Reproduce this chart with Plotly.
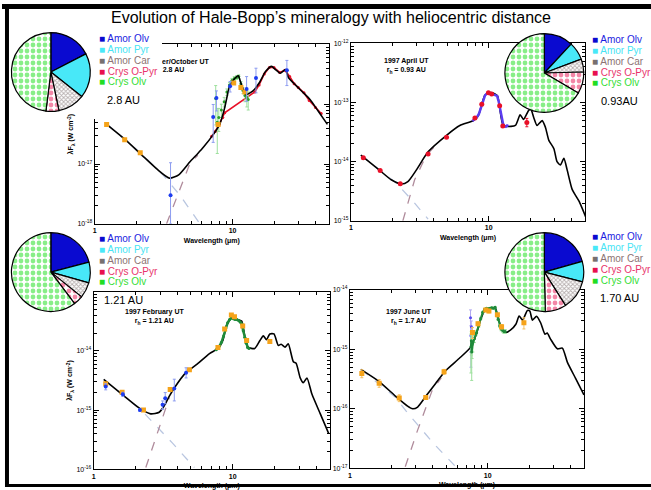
import plotly.graph_objects as go

FONT = "Arial, Liberation Sans, sans-serif"

# ---------------- Pie data (composition fractions, %) ----------------
pie_labels = ["Amor Olv", "Amor Pyr", "Amor Car", "Crys O-Pyr", "Crys Olv"]
pie_28 = [17.4, 18.3, 11.0, 5.3, 48.0]
pie_093 = [11.9, 7.4, 5.3, 8.9, 66.5]
pie_121 = [20.9, 8.5, 6.4, 3.9, 60.3]
pie_170 = [20.6, 8.4, 12.0, 8.6, 50.4]
legend_colors = ["#1c1ce0", "#48e4f4", "#8c7373", "#e8336b", "#33dd33"]
legend_box_colors = ["#0a0ad0", "#48e8f8", "#777070", "#e8104f", "#22dd22"]

# ---------------- Panel A : 1997 Sep/Oct, 2.8 AU ----------------
A_model_wl = [1.22, 1.65, 2.17, 2.85, 3.49, 4.07, 4.93, 5.6, 6.14, 7.24, 8.07, 8.77, 9.52, 10.2, 11.0,
              11.5, 12.5, 14.0, 15.6, 17.4, 19.2, 20.5, 22.2, 24.2, 25.5, 27.7, 31.8, 36.5, 41.8, 48.8]
A_model_F = [4.6e-17, 2.6e-17, 1.45e-17, 8.1e-18, 5.8e-18, 6.6e-18, 1.1e-17, 1.5e-17, 1.9e-17, 3.1e-17,
             4.6e-17, 8.7e-17, 2.0e-16, 2.57e-16, 3.0e-16, 2.26e-16, 1.45e-16, 1.65e-16, 2.26e-16, 3.55e-16,
             4.3e-16, 3.8e-16, 3.3e-16, 3.8e-16, 2.75e-16, 2.26e-16, 1.65e-16, 1.2e-16, 7.7e-17, 4.6e-17]
A_scat_wl = [1.22, 2.17, 3.18, 4.2, 5.8]
A_scat_F = [4.7e-17, 1.5e-17, 6.3e-18, 2.9e-18, 1.0e-18]
A_therm_wl = [3.32, 3.8, 4.3, 4.93, 5.6]
A_therm_F = [1.0e-18, 2.26e-18, 4.8e-18, 1.05e-17, 1.4e-17]
A_orange_wl = [1.22, 1.65, 2.14, 7.86, 10.2, 11.5, 12.3]
A_orange_F = [4.6e-17, 2.55e-17, 1.54e-17, 4.6e-17, 2.26e-16, 1.9e-16, 1.6e-16]
A_blue_wl = [3.55, 7.24, 7.64, 9.6, 12.65, 14.8, 24.8]
A_blue_F = [3.0e-18, 6.1e-17, 1.27e-16, 2.0e-16, 1.8e-16, 2.75e-16, 3.7e-16]
A_blue_up = [7.5e-18, 3.8e-17, 4e-17, 4e-17, 1.1e-16, 1.25e-16, 1.7e-16]
A_blue_dn = [2.0e-18, 3.8e-17, 5e-17, 4e-17, 6.8e-17, 1.2e-16, 1.65e-16]
A_green_wl = [7.55, 7.75, 7.95, 8.3, 8.7, 9.1, 9.5, 9.9, 10.3, 10.7, 11.1, 11.5, 11.9, 12.3, 12.7, 13.0]
A_green_F = [1.25e-16, 5.0e-17, 6.0e-17, 8.0e-17, 1.1e-16, 1.6e-16, 2.1e-16, 2.5e-16, 2.7e-16, 2.8e-16,
             2.9e-16, 2.2e-16, 1.7e-16, 1.4e-16, 1.3e-16, 1.2e-16]
A_green_err = [8e-17, 3.5e-17, 2.5e-17, 2e-17, 2e-17, 2e-17, 2e-17, 2e-17, 2e-17, 2e-17, 2e-17, 2e-17,
               2e-17, 3e-17, 4e-17, 4e-17]
A_red_wl = [7.06, 7.5, 8.0, 8.5, 8.77, 14.5, 15.6, 17.0, 18.5, 20.0, 22.0, 24.0, 26.0, 28.0, 30.0, 33.0,
            36.0, 40.0, 44.0]
A_red_F = [2.9e-17, 3.5e-17, 4.6e-17, 6.0e-17, 7.2e-17, 1.6e-16, 2.1e-16, 3.2e-16, 4.1e-16, 4.1e-16,
           3.4e-16, 3.7e-16, 2.9e-16, 2.2e-16, 1.9e-16, 1.55e-16, 1.15e-16, 8.8e-17, 7.0e-17]

# ---------------- Panel B : 1997 April, 0.93 AU ----------------
B_model_wl = [1.18, 1.61, 1.96, 2.32, 2.59, 2.98, 3.63, 4.94, 6.17, 7.73, 8.4, 8.9, 9.4, 10.2, 11.1, 11.6,
              12.1, 12.65, 13.5, 15.6, 16.9, 17.9, 19.5, 20.2, 21.2, 22.4, 24.4, 25.8, 27.3, 29.7, 31.3,
              33.1, 35.1, 37.1, 40.3, 45.2, 51.3]
B_model_F = [1.29e-14, 7.2e-15, 4.95e-15, 4.2e-15, 4.6e-15, 7.2e-15, 1.47e-14, 2.8e-14, 4.1e-14, 4.95e-14,
             6.0e-14, 9.4e-14, 1.34e-13, 1.47e-13, 1.4e-13, 1.29e-13, 7.2e-14, 4.3e-14, 3.95e-14, 4.1e-14,
             6.2e-14, 5.2e-14, 7.4e-14, 7.7e-14, 5.6e-14, 4.1e-14, 4.95e-14, 3.8e-14, 2.3e-14, 1.66e-14,
             1.0e-14, 8.8e-15, 1.14e-14, 7.2e-15, 3.4e-15, 2.15e-15, 1.07e-15]
B_scat_wl = [1.18, 1.61, 2.13, 2.82, 3.63]
B_scat_F = [1.29e-14, 7.2e-15, 4.35e-15, 2.15e-15, 1.07e-15]
B_therm_wl = [2.38, 2.9, 3.53, 4.0]
B_therm_F = [1.0e-15, 4.95e-15, 1.29e-14, 1.75e-14]
B_red_wl = [1.23, 1.63, 2.28, 3.63, 4.94, 7.94, 8.9, 9.95, 10.5, 12.0, 12.65, 18.9]
B_red_F = [1.17e-14, 7.1e-15, 4.25e-15, 1.35e-14, 2.6e-14, 5.5e-14, 9.4e-14, 1.47e-13, 1.4e-13, 8.8e-14,
           4.0e-14, 4.6e-14]
B_red_up = [0, 0, 0, 0, 0, 0, 0, 0, 0, 0, 0, 8e-15]
B_red_dn = [0, 0, 0, 0, 0, 0, 0, 0, 0, 0, 0, 7e-15]
B_purple_wl = [7.6, 7.9, 8.2, 8.5, 8.8, 9.1, 9.4, 9.7, 10.0, 10.3, 10.6, 10.9, 11.2, 11.5, 11.8, 12.1,
               12.4, 12.7, 13.0, 13.3, 13.6, 13.9]
B_purple_F = [4.9e-14, 5.2e-14, 5.6e-14, 6.5e-14, 8.2e-14, 1.1e-13, 1.32e-13, 1.42e-13, 1.45e-13, 1.43e-13,
              1.4e-13, 1.38e-13, 1.36e-13, 1.3e-13, 1.05e-13, 7.6e-14, 5.5e-14, 4.4e-14, 4.0e-14, 3.9e-14,
              4.1e-14, 4.0e-14]

# ---------------- Panel C : 1997 February, 1.21 AU ----------------
C_model_wl = [1.18, 1.6, 2.12, 2.57, 2.96, 3.22, 3.5, 3.8, 4.62, 5.45, 6.81, 7.83, 8.5, 9.0, 9.78, 10.6,
              11.6, 12.2, 12.9, 14.4, 15.7, 16.6, 17.5, 18.5, 19.8, 21.3, 22.3, 23.8, 25.1, 27.3, 28.6,
              30.6, 32.2, 34.2, 37.2, 42.7, 49.0]
C_model_F = [3.3e-15, 1.85e-15, 1.09e-15, 8.65e-16, 9.2e-16, 1.19e-15, 1.72e-15, 2.37e-15, 4.35e-15,
             5.8e-15, 9.05e-15, 1.1e-14, 1.5e-14, 2.66e-14, 3.65e-14, 3.45e-14, 3.2e-14, 1.8e-14, 1.16e-14,
             1.1e-14, 1.5e-14, 1.8e-14, 1.55e-14, 1.94e-14, 1.94e-14, 1.24e-14, 1.3e-14, 1.16e-14,
             1.32e-14, 6.6e-15, 6.2e-15, 3.5e-15, 2.9e-15, 3.5e-15, 1.85e-15, 8.65e-16, 4.05e-16]
C_scat_wl = [1.18, 2.2, 3.69, 5.3]
C_scat_F = [3.3e-15, 1.0e-15, 2.76e-16, 1.07e-16]
C_therm_wl = [2.37, 2.96, 3.5]
C_therm_F = [1.07e-16, 4.9e-16, 1.63e-15]
C_orange_wl = [1.22, 1.6, 2.28, 3.55, 4.88, 7.83, 8.75, 9.78, 10.3, 11.8, 12.6, 18.5]
C_orange_F = [2.8e-15, 2.0e-15, 1.0e-15, 2.24e-15, 4.8e-15, 1.15e-14, 2.35e-14, 4.05e-14, 3.8e-14,
              2.65e-14, 1.5e-14, 1.45e-14]
C_blue_wl = [1.22, 1.62, 2.15, 3.13, 3.27, 3.8, 4.62]
C_blue_F = [2.5e-15, 1.85e-15, 1.0e-15, 1.23e-15, 1.58e-15, 2.33e-15, 4.3e-15]
C_blue_up = [3e-16, 1.5e-16, 5e-17, 2e-16, 4e-16, 1.0e-15, 9e-16]
C_blue_dn = [3e-16, 1.5e-16, 5e-17, 2e-16, 3e-16, 9e-16, 8e-16]
C_green_wl = [7.6, 7.8, 8.0, 8.3, 8.6, 8.9, 9.2, 9.5, 9.8, 10.1, 10.4, 10.7, 11.0, 11.3, 11.6, 11.9, 12.2,
              12.5, 12.8, 13.1]
C_green_F = [1.05e-14, 1.1e-14, 1.2e-14, 1.4e-14, 1.8e-14, 2.4e-14, 3.0e-14, 3.4e-14, 3.6e-14, 3.5e-14,
             3.4e-14, 3.4e-14, 3.3e-14, 3.1e-14, 2.9e-14, 2.2e-14, 1.7e-14, 1.35e-14, 1.15e-14, 1.1e-14]

# ---------------- Panel D : 1997 June, 1.7 AU ----------------
D_model_wl = [1.2, 1.63, 2.15, 2.62, 2.85, 3.1, 3.55, 4.2, 4.96, 6.2, 7.53, 8.19, 8.9, 9.68, 10.8, 11.3,
              11.75, 12.4, 13.4, 14.6, 16.0, 16.9, 17.9, 19.4, 20.2, 21.1, 22.6, 24.2, 26.0, 27.0, 28.5,
              32.0, 34.8, 37.8, 43.4, 49.9]
D_model_F = [4.6e-16, 2.87e-16, 1.62e-16, 1.11e-16, 1.0e-16, 1.07e-16, 1.62e-16, 2.7e-16, 4.4e-16,
             7.0e-16, 1.09e-15, 1.69e-15, 3.2e-15, 4.85e-15, 4.85e-15, 5.1e-15, 3.87e-15, 2.47e-15,
             1.92e-15, 2.1e-15, 2.64e-15, 3.63e-15, 3.1e-15, 4.5e-15, 4.4e-15, 3.1e-15, 3.6e-15, 2.8e-15,
             1.8e-15, 1.88e-15, 1.5e-15, 1.02e-15, 1.05e-15, 6.1e-16, 3.25e-16, 1.72e-16]
D_scat_wl = [1.2, 2.15, 2.55, 3.97, 5.86]
D_scat_F = [4.6e-16, 1.55e-16, 9.2e-17, 2.74e-17, 1.06e-17]
D_therm_wl = [2.52, 3.09, 3.97, 4.6]
D_therm_F = [1.06e-17, 4.3e-17, 2.09e-16, 3.3e-16]
D_orange_wl = [1.22, 1.63, 2.28, 3.55, 4.82, 7.75, 8.5, 9.68, 10.2, 11.75, 12.6, 18.3]
D_orange_F = [3.93e-16, 2.7e-16, 1.52e-16, 1.55e-16, 4.2e-16, 1.92e-15, 2.7e-15, 4.6e-15, 4.4e-15,
              3.8e-15, 2.4e-15, 2.8e-15]
D_orange_err = [6e-17, 4e-17, 2e-17, 1e-17, 4e-17, 4e-16, 2e-16, 3e-16, 3e-16, 2e-16, 2e-16, 6e-16]
D_blue_wl = [7.5, 7.55, 7.6]
D_blue_F = [3.4e-15, 1.7e-15, 2.4e-15]
D_blue_up = [1.2e-15, 8e-16, 6e-16]
D_blue_dn = [2.5e-15, 1.2e-15, 1.4e-15]
D_green_wl = [7.55, 7.6, 7.65, 7.7, 7.8, 8.0, 8.3, 8.6, 8.9, 9.2, 9.5, 9.8, 10.1, 10.4, 10.7, 11.0, 11.3,
              11.6, 11.9, 12.2, 12.5, 12.8, 13.1, 13.4]
D_green_F = [1.1e-15, 1.4e-15, 9e-16, 1.2e-15, 1.3e-15, 1.5e-15, 1.9e-15, 2.5e-15, 3.3e-15, 4.2e-15,
             4.7e-15, 4.9e-15, 4.8e-15, 4.9e-15, 5.0e-15, 4.9e-15, 5.1e-15, 4.0e-15, 3.2e-15, 2.5e-15,
             2.2e-15, 2.1e-15, 2.0e-15, 2.0e-15]
D_green_err = [7e-16, 6e-16, 6e-16, 5e-16, 4e-16, 2e-16, 1.5e-16, 1.5e-16, 1.5e-16, 1.5e-16, 1.5e-16,
               1.5e-16, 1.5e-16, 1.5e-16, 1.5e-16, 1.5e-16, 1.5e-16, 1.5e-16, 1.5e-16, 1.5e-16, 1.5e-16,
               1.5e-16, 1.5e-16, 1.5e-16]

W, H = 651, 490


def px(x):
    return x / W


def py(y):
    return 1 - y / H


fig = go.Figure()

ORANGE = "#f5a31a"
BLUE = "#1d3cf0"
GREEN = "#2a9d2a"
RED = "#e81028"
PURPLE = "#5b3cf0"


def add_panel(k, model, scat, therm, extras):
    xa = "x" if k == 1 else "x%d" % k
    ya = "y" if k == 1 else "y%d" % k
    fig.add_trace(go.Scatter(x=scat[0], y=scat[1], mode="lines", xaxis=xa, yaxis=ya,
                             line=dict(color="#b9c6e0", width=1.3, dash="dash"), hoverinfo="skip"))
    fig.add_trace(go.Scatter(x=therm[0], y=therm[1], mode="lines", xaxis=xa, yaxis=ya,
                             line=dict(color="#b08c9c", width=1.3, dash="dash"), hoverinfo="skip"))
    for e in extras:
        if e.get("under"):
            fig.add_trace(go.Scatter(xaxis=xa, yaxis=ya, hoverinfo="skip", **e["tr"]))
    fig.add_trace(go.Scatter(x=model[0], y=model[1], mode="lines", xaxis=xa, yaxis=ya,
                             line=dict(color="black", width=1.6, shape="spline", smoothing=0.6),
                             hoverinfo="skip"))
    for e in extras:
        if not e.get("under"):
            fig.add_trace(go.Scatter(xaxis=xa, yaxis=ya, hoverinfo="skip", **e["tr"]))


def pts(wl, f, color, symbol="circle", size=4, up=None, dn=None, ecolor=None, line=False, under=False,
        lw=1.5):
    tr = dict(x=wl, y=f, mode="lines+markers" if line else "markers",
              marker=dict(color=color, symbol=symbol, size=size, line=dict(width=0)))
    if line:
        tr["line"] = dict(color=color, width=lw)
    if up is not None:
        tr["error_y"] = dict(type="data", array=up, arrayminus=dn if dn is not None else up,
                             color=ecolor or color, thickness=1, width=1.5)
    return dict(tr=tr, under=under)


# Panel A
add_panel(1, (A_model_wl, A_model_F), (A_scat_wl, A_scat_F), (A_therm_wl, A_therm_F), [
    pts(A_red_wl, A_red_F, RED, size=3, line=True, under=True, lw=1.6),
    pts(A_green_wl, A_green_F, GREEN, size=3, up=A_green_err, ecolor="#9ee09e", under=True),
    pts(A_orange_wl, A_orange_F, ORANGE, symbol="square", size=5),
    pts(A_blue_wl, A_blue_F, BLUE, size=4, up=A_blue_up, dn=A_blue_dn, ecolor="#8d9cf0"),
])
# Panel B
add_panel(2, (B_model_wl, B_model_F), (B_scat_wl, B_scat_F), (B_therm_wl, B_therm_F), [
    pts(B_purple_wl, B_purple_F, PURPLE, symbol="x-thin", size=4, line=True, under=False, lw=2.5),
    pts(B_red_wl, B_red_F, RED, size=5, up=B_red_up, dn=B_red_dn),
])
# Panel C
add_panel(3, (C_model_wl, C_model_F), (C_scat_wl, C_scat_F), (C_therm_wl, C_therm_F), [
    pts(C_green_wl, C_green_F, "#1f8a3a", size=3, line=True, lw=2.5),
    pts(C_orange_wl, C_orange_F, ORANGE, symbol="square", size=5),
    pts(C_blue_wl, C_blue_F, BLUE, size=4, up=C_blue_up, dn=C_blue_dn, ecolor="#8d9cf0"),
])
# Panel D
add_panel(4, (D_model_wl, D_model_F), (D_scat_wl, D_scat_F), (D_therm_wl, D_therm_F), [
    pts(D_blue_wl, D_blue_F, "#5a4cf0", size=3, up=D_blue_up, dn=D_blue_dn, ecolor="#b0a8f0"),
    pts(D_green_wl, D_green_F, "#1f8a3a", size=3, up=D_green_err, ecolor="#9ee09e", line=True, lw=2),
    pts(D_orange_wl, D_orange_F, ORANGE, symbol="square", size=5, up=D_orange_err, ecolor="#f5c060"),
])

# ---------------- Pies ----------------
pie_colors = ["#0a0ad0", "#48e8f8", "white", "white", "white"]
pie_patterns = dict(shape=["", "", "x", ".", "."],
                    fgcolor=["#0a0ad0", "#48e8f8", "#6e5e5e", "#e8104f", "#11dd11"],
                    bgcolor=["#0a0ad0", "#48e8f8", "white", "white", "white"],
                    size=[6, 6, 3, 6, 6], solidity=[0.3, 0.3, 0.5, 0.5, 0.5], fillmode="overlay")
pie_specs = [(pie_28, 49, 69), (pie_093, 544, 70), (pie_121, 49, 272), (pie_170, 544, 272)]
R = 40
for vals, cx, cy in pie_specs:
    fig.add_trace(go.Pie(labels=pie_labels, values=vals, sort=False, direction="clockwise", rotation=0,
                         textinfo="none", hoverinfo="skip", showlegend=False,
                         marker=dict(colors=pie_colors, line=dict(color="black", width=1.2),
                                     pattern=pie_patterns),
                         domain=dict(x=[px(cx - R), px(cx + R)], y=[py(cy + R), py(cy - R)])))

# ---------------- Axes ----------------
panel_geo = {
    1: dict(x=(93, 328), y=(41, 223), yr=(-18, -15), hide=[-16, -15], ytitle=True),
    2: dict(x=(350, 585), y=(40, 220), yr=(-15, -12), hide=[], ytitle=False),
    3: dict(x=(92, 329), y=(292, 472), yr=(-16, -13), hide=[-13], ytitle=True),
    4: dict(x=(349, 584), y=(290, 471), yr=(-17, -14), hide=[], ytitle=False),
}
xminor = [2, 3, 4, 5, 6, 7, 8, 9, 20, 30, 40, 50]
for k, g in panel_geo.items():
    sx = "" if k == 1 else str(k)
    e0, e1 = g["yr"]
    yvals = [10.0 ** e for e in range(e0, e1 + 1)]
    ytext = ["" if e in g["hide"] else "10<sup>%d</sup>" % e for e in range(e0, e1 + 1)]
    yminor = [m * 10.0 ** e for e in range(e0, e1) for m in range(2, 10)]
    fig.layout["xaxis" + sx] = dict(
        type="log", range=[0, 1.7], domain=[px(g["x"][0]), px(g["x"][1])], anchor="y" + sx,
        showline=True, linecolor="black", linewidth=1, mirror="allticks", ticks="inside", ticklen=5,
        tickcolor="black", tickvals=[1, 10], ticktext=["<b>1</b>", "<b>10</b>"],
        tickfont=dict(size=7, color="black", family=FONT), showgrid=False, zeroline=False,
        minor=dict(ticks="inside", ticklen=3, tickcolor="black", tickvals=xminor, showgrid=False),
        title=dict(text="<b>Wavelength (μm)</b>", font=dict(size=7, color="black", family=FONT),
                   standoff=4),
    )
    fig.layout["yaxis" + sx] = dict(
        type="log", range=[e0, e1], domain=[py(g["y"][1]), py(g["y"][0])], anchor="x" + sx,
        showline=True, linecolor="black", linewidth=1, mirror="allticks", ticks="inside", ticklen=5,
        tickcolor="black", tickvals=yvals, ticktext=ytext,
        tickfont=dict(size=7, color="black", family=FONT), showgrid=False, zeroline=False,
        minor=dict(ticks="inside", ticklen=3, tickcolor="black", tickvals=yminor, showgrid=False),
        title=dict(text="<b>λF<sub>λ</sub> (W cm<sup>-2</sup>)</b>" if g["ytitle"] else "",
                   font=dict(size=7, color="black", family=FONT), standoff=2),
    )

# ---------------- Annotations ----------------
ann = []
# panel captions (bold, small): (x, y, anchor, line1, rh)
captions = [(210, 53, "right", "1997 September/October UT", None),
            (185, 61, "right", None, "2.8 AU"),
            (406, 52, "center", "1997 April UT", "0.93 AU"),
            (153, 306, "center", "1997 February UT", "1.21 AU"),
            (408, 306, "center", "1997 June UT", "1.7 AU")]
for cx, cy, anc, l1, l2 in captions:
    parts = []
    if l1:
        parts.append("<b>%s</b>" % l1)
    if l2:
        parts.append("<b>r<sub>h</sub> = %s</b>" % l2)
    ann.append(dict(x=px(cx), y=py(cy), xref="paper", yref="paper", xanchor=anc, yanchor="top",
                    text="<br>".join(parts), showarrow=False,
                    font=dict(size=7, color="black", family=FONT), align="center"))
# white mask over top-left corner of panel A (the pasted legend picture)
ann.append(dict(x=px(90), y=py(28), xref="paper", yref="paper", xanchor="left", yanchor="top",
                text=" ", width=70, height=87, bgcolor="white", showarrow=False, borderpad=0,
                borderwidth=0))
# legends
legend_pos = [(95, 35, "2.8 AU", 103), (590, 36, "0.93AU", 599), (95, 238, "1.21 AU", 100),
              (590, 236, "1.70 AU", 598)]
for lx, ly, au, aux in legend_pos:
    for i, (lab, col) in enumerate(zip(pie_labels, legend_colors)):
        ann.append(dict(x=px(lx), y=py(ly + 11 * i), xref="paper", yref="paper", xanchor="left",
                        yanchor="middle", showarrow=False,
                        text="<span style='color:%s'>■</span> %s" % (legend_box_colors[i], lab),
                        font=dict(size=10, color=col, family=FONT)))
    ann.append(dict(x=px(aux), y=py(ly + 11 * 4 + 18), xref="paper", yref="paper", xanchor="left",
                    yanchor="middle", showarrow=False, text=au,
                    font=dict(size=11, color="black", family=FONT)))

fig.update_layout(
    width=W, height=H, margin=dict(l=0, r=0, t=0, b=0), paper_bgcolor="white", plot_bgcolor="white",
    showlegend=False, font=dict(family=FONT, color="black"),
    title=dict(text="Evolution of Hale-Bopp’s mineralogy with heliocentric distance", x=331 / W,
               xanchor="center", y=py(17), yanchor="middle", font=dict(size=16, color="black", family=FONT)),
    annotations=ann,
    shapes=[
        dict(type="rect", xref="paper", yref="paper", x0=0, x1=1, y0=py(5), y1=py(0), fillcolor="black",
             line=dict(width=0), layer="above"),
        dict(type="rect", xref="paper", yref="paper", x0=px(3), x1=px(7), y0=0, y1=1, fillcolor="black",
             line=dict(width=0), layer="above"),
        dict(type="rect", xref="paper", yref="paper", x0=px(5), x1=1, y0=0, y1=py(487), fillcolor="black",
             line=dict(width=0), layer="above"),
    ],
)

fig.write_html("out.html")
